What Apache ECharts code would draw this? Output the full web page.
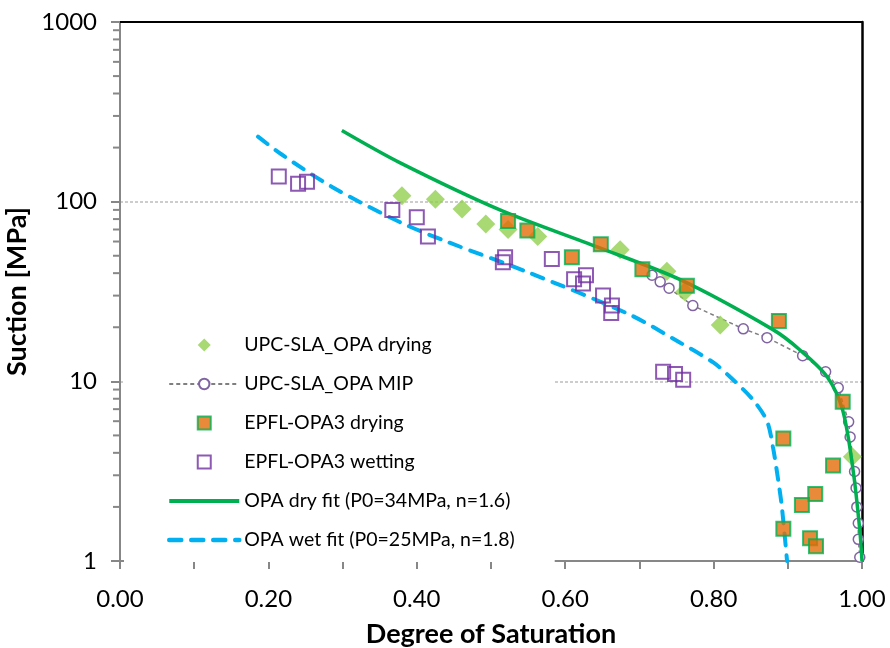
<!DOCTYPE html>
<html>
<head>
<meta charset="utf-8">
<script src="https://cdn.jsdelivr.net/npm/echarts@6/dist/echarts.min.js"></script>
<style>
  html, body { margin: 0; padding: 0; background: #fff; }
  #chart { width: 890px; height: 648px; }
</style>
</head>
<body>
<div id="chart"></div>
<script>
// values: [degree of saturation, suction MPa]
var upcDrying = [[0.380, 108], [0.425, 103], [0.461, 91], [0.493, 75], [0.523, 70], [0.563, 64],
    [0.674, 54], [0.737, 41], [0.761, 31.5], [0.809, 20.6], [0.987, 3.8]];
var upcMip = [[0.717, 39], [0.728, 35.8], [0.740, 33], [0.772, 26.4], [0.840, 19.6], [0.872, 17.5],
    [0.920, 13.9], [0.951, 11.3], [0.968, 9.2], [0.982, 5.95], [0.984, 4.9], [0.990, 3.15],
    [0.992, 2.55], [0.993, 2.0], [0.995, 1.62], [0.995, 1.32], [0.997, 1.05]];
var epflDrying = [[0.523, 78], [0.549, 69], [0.609, 49], [0.648, 58], [0.704, 42], [0.764, 34],
    [0.888, 21.7], [0.974, 7.7], [0.894, 4.8], [0.961, 3.4], [0.937, 2.36], [0.919, 2.05],
    [0.894, 1.51], [0.930, 1.34], [0.938, 1.21]];
var epflWetting = [[0.214, 138], [0.240, 126], [0.252, 129], [0.367, 90], [0.400, 82], [0.415, 64],
    [0.519, 49], [0.516, 46], [0.582, 48], [0.612, 37], [0.628, 39], [0.624, 35], [0.651, 30],
    [0.663, 26.4], [0.662, 24], [0.732, 11.3], [0.748, 11.0], [0.759, 10.2]];
var dryFit = [[0.299, 249], [0.377, 165], [0.512, 90], [0.643, 56], [0.755, 36.8], [0.880, 19.4],
    [0.916, 15], [0.953, 10.6], [0.974, 6.9], [0.988, 3.2], [0.997, 1.49], [1.0, 1.0]];
var wetFit = [[0.186, 230], [0.218, 183], [0.287, 120], [0.377, 77], [0.44, 60], [0.553, 40],
    [0.687, 23.5], [0.755, 16.4], [0.80, 12.7], [0.822, 10.6], [0.853, 7.9], [0.872, 6.0],
    [0.880, 4.3], [0.887, 2.83], [0.892, 2.0], [0.899, 1.0]];
var minorTickValues = [2, 3, 4, 5, 6, 7, 8, 9, 20, 30, 40, 50, 60, 70, 80, 90,
    200, 300, 400, 500, 600, 700, 800, 900];

var names = ['UPC-SLA_OPA drying', 'UPC-SLA_OPA MIP', 'EPFL-OPA3 drying', 'EPFL-OPA3 wetting',
    'OPA dry fit (P0=34MPa, n=1.6)', 'OPA wet fit (P0=25MPa, n=1.8)'];

var FONT = 'Lato, "Liberation Sans", sans-serif';
var AXIS_GRAY = '#878787';
var DIAMOND = 'path://M5,0L10,5L5,10L0,5Z';
var SQUARE = 'path://M0,0L10,0L10,10L0,10Z';
var NO_MARK = { color: 'rgba(0,0,0,0)', borderColor: 'rgba(0,0,0,0)' };

var myChart = echarts.init(document.getElementById('chart'), null, { renderer: 'canvas' });

var option = {
    animation: false,
    grid: { left: 120, right: 28, top: 22, bottom: 87, outerBoundsMode: 'none', containLabel: false },
    legend: {
        data: [
            { name: names[0], icon: DIAMOND },
            { name: names[1] },
            { name: names[2], icon: SQUARE },
            { name: names[3], icon: SQUARE },
            { name: names[4], itemStyle: NO_MARK, lineStyle: { width: 4 } },
            { name: names[5], itemStyle: NO_MARK, lineStyle: { width: 4.5 } }
        ],
        orient: 'vertical',
        left: 124,
        top: 323,
        itemWidth: 70,
        itemHeight: 13,
        itemGap: 19,
        symbolKeepAspect: true,
        padding: [12, 40, 12, 43],
        backgroundColor: '#fff',
        textStyle: { fontFamily: FONT, fontSize: 19.5, color: '#000' }
    },
    xAxis: [{
        type: 'value',
        min: 0,
        max: 1,
        interval: 0.1,
        name: 'Degree of Saturation',
        nameLocation: 'middle',
        nameGap: 60,
        nameTextStyle: { fontFamily: FONT, fontSize: 27, fontWeight: 'bold', color: '#000' },
        axisLine: { lineStyle: { color: AXIS_GRAY, width: 2 } },
        axisTick: { length: 8, lineStyle: { color: AXIS_GRAY, width: 2 } },
        axisLabel: {
            margin: 26,
            fontFamily: FONT,
            fontSize: 24,
            color: '#000',
            formatter: function (v) {
                var k = Math.round(v * 10);
                return k % 2 === 0 ? v.toFixed(2) : '';
            }
        },
        splitLine: { show: false }
    }, {
        type: 'value',
        min: 0,
        max: 1,
        position: 'top',
        axisLine: { show: true, onZero: false, lineStyle: { color: '#000', width: 2 } },
        axisTick: { show: false },
        axisLabel: { show: false },
        splitLine: { show: false }
    }],
    yAxis: [{
        type: 'log',
        logBase: 10,
        min: 1,
        max: 1000,
        name: 'Suction [MPa]',
        nameLocation: 'middle',
        nameGap: 84,
        nameTextStyle: { fontFamily: FONT, fontSize: 27, fontWeight: 'bold', color: '#000' },
        axisLine: { show: true, onZero: false, lineStyle: { color: AXIS_GRAY, width: 2 } },
        axisTick: { show: true, length: 9, lineStyle: { color: AXIS_GRAY, width: 2 } },
        axisLabel: {
            margin: 23,
            fontFamily: FONT,
            fontSize: 24,
            color: '#000',
            formatter: function (v) { return String(Math.round(v)); }
        },
        splitLine: { show: true, lineStyle: { color: '#bdbdbd', width: 1.5, type: [3, 2] } }
    }, {
        type: 'log',
        logBase: 10,
        min: 1,
        max: 1000,
        position: 'right',
        axisLine: { show: true, onZero: false, lineStyle: { color: '#000', width: 2.5 } },
        axisTick: { show: false },
        axisLabel: { show: false },
        splitLine: { show: false }
    }],
    series: [
        {
            // minor ticks on the log axis
            type: 'custom',
            name: 'minorTicks',
            silent: true,
            clip: false,
            z: 1,
            renderItem: function (params, api) {
                var p = api.coord([0, api.value(1)]);
                return {
                    type: 'line',
                    shape: { x1: p[0] - 7, y1: p[1], x2: p[0], y2: p[1] },
                    style: { stroke: AXIS_GRAY, lineWidth: 2 }
                };
            },
            data: minorTickValues.map(function (v) { return [0, v]; })
        },
        {
            name: names[0],
            type: 'scatter',
            symbol: 'diamond',
            symbolSize: 19,
            itemStyle: { color: '#92D050' },
            z: 2,
            data: upcDrying
        },
        {
            name: names[1],
            type: 'line',
            symbol: 'circle',
            symbolSize: 10,
            showAllSymbol: true,
            itemStyle: { color: '#fff', borderColor: '#8064A2', borderWidth: 1.5 },
            lineStyle: { color: '#7f7f7f', width: 1.5, type: [4, 3] },
            z: 2,
            data: upcMip
        },
        {
            name: names[4],
            type: 'line',
            symbol: 'none',
            smooth: 0.3,
            itemStyle: { color: '#00B050' },
            lineStyle: { color: '#00B050', width: 3.5 },
            z: 3,
            data: dryFit
        },
        {
            name: names[5],
            type: 'line',
            symbol: 'none',
            smooth: 0.3,
            itemStyle: { color: '#00B0F0' },
            lineStyle: { color: '#00B0F0', width: 4, type: [12, 10], cap: 'round' },
            z: 3,
            data: wetFit
        },
        {
            name: names[3],
            type: 'scatter',
            symbol: 'rect',
            symbolSize: 14,
            itemStyle: { color: 'rgba(255,255,255,0)', borderColor: '#7030A0', borderWidth: 2 },
            z: 4,
            data: epflWetting
        },
        {
            name: names[2],
            type: 'scatter',
            symbol: 'rect',
            symbolSize: 14,
            itemStyle: { color: '#E36C09', borderColor: '#00B050', borderWidth: 2 },
            z: 5,
            data: epflDrying
        }
    ]
};

myChart.setOption(option);
window.addEventListener('resize', function () { myChart.resize(); });
</script>
</body>
</html>
